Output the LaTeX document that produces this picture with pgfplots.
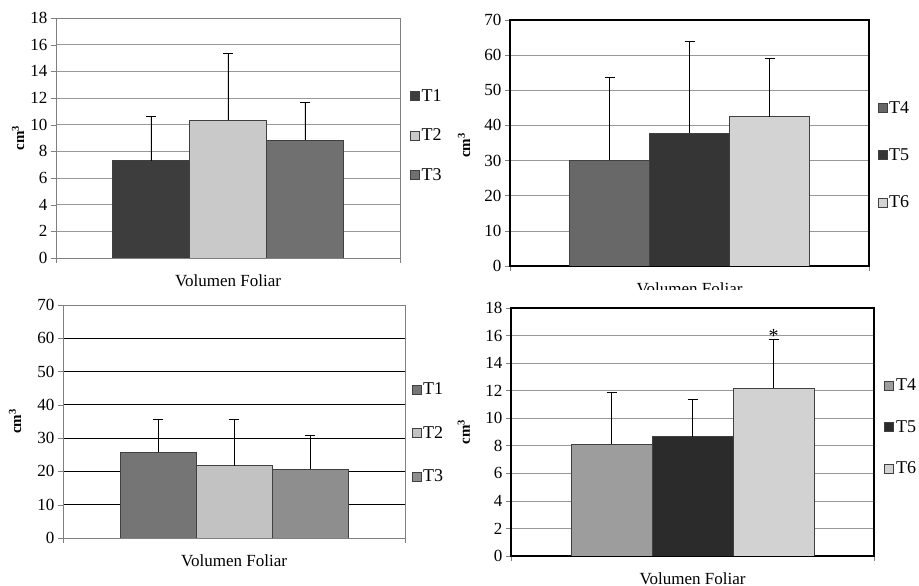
\documentclass[border=0pt]{standalone}
\usepackage{fontspec}
\setmainfont{Liberation Serif}
\usepackage{pgfplots}
\pgfplotsset{compat=1.18}
\definecolor{aA}{HTML}{3D3D3D}
\definecolor{aB}{HTML}{C9C9C9}
\definecolor{aC}{HTML}{707070}
\definecolor{bA}{HTML}{686868}
\definecolor{bB}{HTML}{353535}
\definecolor{bC}{HTML}{D3D3D3}
\definecolor{cA}{HTML}{757575}
\definecolor{cB}{HTML}{C2C2C2}
\definecolor{cC}{HTML}{8E8E8E}
\definecolor{dA}{HTML}{9D9D9D}
\definecolor{dB}{HTML}{2B2B2B}
\definecolor{dC}{HTML}{D2D2D2}
\pgfplotsset{
  bb/.style={fill=#1, draw=black!75, line width=0.6pt,
    error bars/y dir=plus, error bars/y explicit,
    error bars/error bar style={black, line width=0.8pt},
    error bars/error mark options={rotate=90, mark size=5pt, line width=0.8pt, black},
    legend image code/.code={\draw[fill=#1, draw=black!75, line width=0.6pt] (0pt,-4.5pt) rectangle (9pt,4.5pt);}},
  panel/.style={
    scale only axis, ybar=0pt, ymin=0,
    xmin=-1, xmax=1, xtick={-1,1}, xticklabels={},
    ymajorgrids, tick align=outside, major tick length=5pt, tick pos=left,
    /pgf/number format/assume math mode=true,
    ticklabel style={font=\fontsize{17}{19}\selectfont},
    xlabel={Volumen Foliar},
    xlabel style={font=\fontsize{17}{19}\selectfont, at={(axis description cs:0.5,0)}, anchor=north, inner sep=0pt, yshift=-17pt},
    ylabel={\textbf{cm\textsuperscript{3}}},
    ylabel style={font=\fontsize{15}{17}\selectfont, anchor=center},
    legend style={draw=none, fill=none, anchor=west, font=\fontsize{18}{20}\selectfont},
    legend cell align=left,
  },
}
\begin{document}
\begin{tikzpicture}
\path[use as bounding box] (0,0) rectangle (919pt,586pt);
% Panel 1
\begin{axis}[panel, at={(56pt,328pt)}, anchor=south west, width=344pt, height=240pt,
  ymax=18, ytick={0,2,...,18}, bar width=77pt,
  axis line style={gray}, tick style={gray}, major grid style={gray!80, line width=0.7pt},
  ylabel style={at={(axis description cs:-0.110,0.5)}},
  legend style={at={(1.02,0.51)}, row sep=22pt}]
\addplot[bb=aA] coordinates {(0,7.3) +- (0,3.3)};
\addplot[bb=aB] coordinates {(0,10.35) +- (0,5.0)};
\addplot[bb=aC] coordinates {(0,8.85) +- (0,2.85)};
\legend{T1,T2,T3}
\end{axis}
% Panel 2
\begin{axis}[panel, at={(510pt,320pt)}, anchor=south west, width=359pt, height=246pt,
  ymax=70, ytick={0,10,...,70}, bar width=80pt,
  axis line style={black, line width=1.5pt}, tick style={gray, line width=0.6pt}, major grid style={gray!80, line width=0.7pt},
  ylabel style={at={(axis description cs:-0.128,0.49)}},
  legend style={at={(1.015,0.45)}, row sep=30pt}]
\addplot[bb=bA] coordinates {(0,30.2) +- (0,23.5)};
\addplot[bb=bB] coordinates {(0,37.9) +- (0,25.9)};
\addplot[bb=bC] coordinates {(0,42.5) +- (0,16.6)};
\legend{T4,T5,T6}
\end{axis}
\fill[white] (540pt,279pt) rectangle (840pt,296pt);
% Panel 3
\begin{axis}[panel, at={(63pt,48pt)}, anchor=south west, width=342pt, height=233pt,
  ymax=70, ytick={0,10,...,70}, bar width=76pt,
  axis line style={gray}, tick style={gray}, major grid style={black, line width=0.8pt},
  ylabel style={at={(axis description cs:-0.14,0.5)}},
  legend style={at={(1.01,0.45)}, row sep=26pt}]
\addplot[bb=cA] coordinates {(0,25.8) +- (0,9.7)};
\addplot[bb=cB] coordinates {(0,21.7) +- (0,13.8)};
\addplot[bb=cC] coordinates {(0,20.7) +- (0,10.1)};
\legend{T1,T2,T3}
\end{axis}
% Panel 4
\begin{axis}[panel, at={(511pt,30pt)}, anchor=south west, width=363pt, height=248pt,
  ymax=18, ytick={0,2,...,18}, bar width=81pt,
  axis line style={black, line width=1.5pt}, tick style={gray, line width=0.6pt}, major grid style={gray!80, line width=0.7pt},
  ylabel style={at={(axis description cs:-0.13,0.5)}},
  legend style={at={(1.02,0.52)}, row sep=24pt}]
\addplot[bb=dA] coordinates {(0,8.1) +- (0,3.8)};
\addplot[bb=dB] coordinates {(0,8.67) +- (0,2.66)};
\addplot[bb=dC] coordinates {(0,12.18) +- (0,3.55)};
\legend{T4,T5,T6}
\node[font=\fontsize{20}{22}\selectfont] at (axis cs:0,16.0) [xshift=81pt] {*};
\end{axis}
\end{tikzpicture}
\end{document}
